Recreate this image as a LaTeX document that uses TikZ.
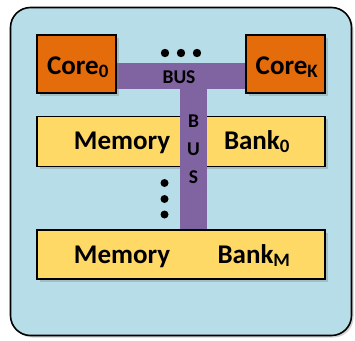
\documentclass[tikz,border=0pt]{standalone}
\usepackage{fontspec}
\setmainfont{Carlito}
\usetikzlibrary{shadows}
\definecolor{bgblue}{HTML}{B7DEE8}
\definecolor{coreorange}{HTML}{E46C0A}
\definecolor{bankyellow}{HTML}{FFD966}
\definecolor{buspurple}{HTML}{8064A2}
\tikzset{
  shad/.style={drop shadow={opacity=0.35, shadow xshift=2.5pt, shadow yshift=-2.5pt}},
  corebox/.style={draw=black, line width=1.3pt, fill=coreorange, minimum width=79pt, minimum height=58pt, inner sep=0pt, shad},
  bankbox/.style={draw=black, line width=1.3pt, fill=bankyellow, minimum width=288pt, minimum height=50pt, inner sep=0pt, shad},
  bigtext/.style={font=\fontsize{27}{29}\selectfont\bfseries, inner sep=0pt, anchor=base},
  busbar/.style={fill=buspurple, inner sep=0pt},
  bustext/.style={font=\fontsize{19.5}{21}\selectfont\bfseries, inner sep=0pt, anchor=base},
  dot/.style={fill=black}
}
\begin{document}
\begin{tikzpicture}[x=1pt,y=-1pt]
\useasboundingbox (0,0) rectangle (355,340);
% outer container
\node[draw=black, line width=1.6pt, fill=bgblue, rounded corners=20pt, minimum width=341pt, minimum height=328pt, inner sep=0pt, drop shadow={opacity=0.35, shadow xshift=2pt, shadow yshift=-2pt}] (outer) at (181,171.5) {};
% horizontal bus
\node[busbar, minimum width=132pt, minimum height=26pt] (hbus) at (181,76) {};
% cores
\node[corebox] (core0) at (76.5,64) {};
\node[corebox] (coreK) at (285.5,64) {};
\node[bigtext] (core0t) at (78,74) {Core\textsubscript{0}};
\node[bigtext] (coreKt) at (287,74) {Core\textsubscript{K}};
% dots between cores
\fill[dot] (165,53) circle (4.2pt) (181,53) circle (4.2pt) (197,53) circle (4.2pt);
% memory bank 0
\node[bankbox] (bank0) at (181,141.5) {};
% vertical bus
\node[busbar, minimum width=27pt, minimum height=167pt] (vbus) at (193.5,146.5) {};
\node[bustext] (hbustext) at (179,83) {BUS};
\node[bustext] (vb) at (193.5,127) {B};
\node[bustext] (vu) at (193.5,155) {U};
\node[bustext] (vs) at (193.5,183) {S};
\node[bigtext] (mem0) at (122,149) {Memory};
\node[bigtext] (bk0) at (257,149) {Bank\textsubscript{0}};
% vertical dots
\fill[dot] (164.5,183) circle (4pt) (164.5,199) circle (4pt) (164.5,214.5) circle (4pt);
% memory bank M
\node[bankbox, minimum height=49pt] (bankM) at (181,254.5) {};
\node[bigtext] (memM) at (122,263) {Memory};
\node[bigtext] (bkM) at (254,263) {Bank\textsubscript{M}};
\end{tikzpicture}
\end{document}
